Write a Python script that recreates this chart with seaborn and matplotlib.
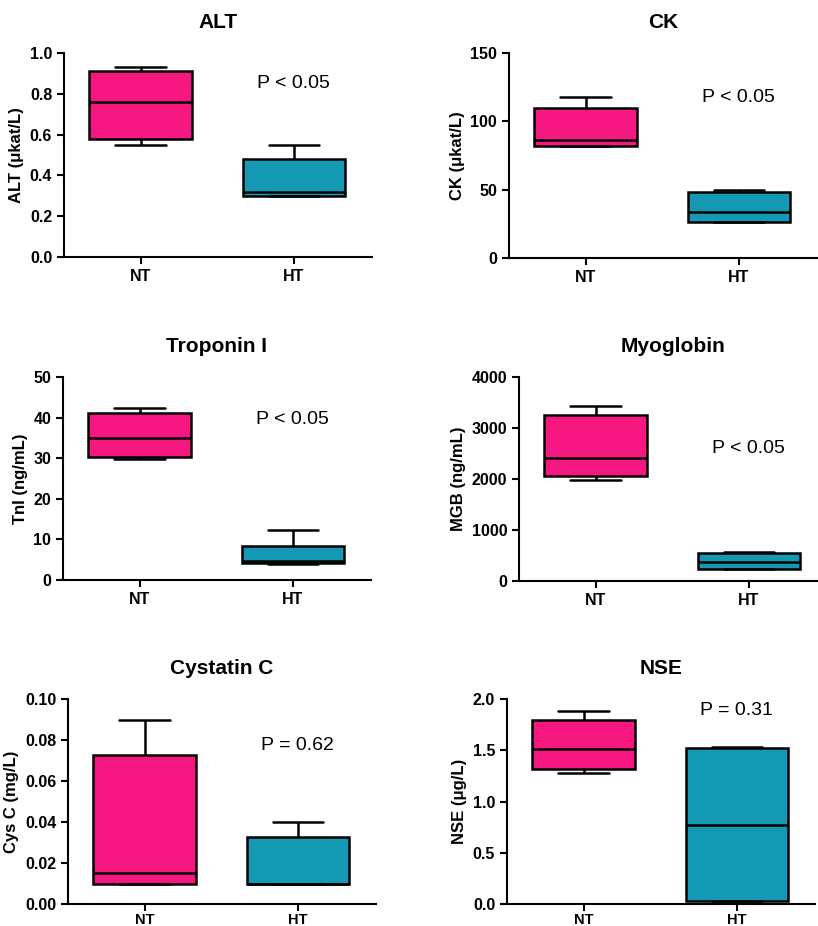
import pandas as pd
import numpy as np
import matplotlib
matplotlib.use('Agg')
import matplotlib.pyplot as plt
import seaborn as sns

# Dados: resumo de cinco números (mín, Q1, mediana, Q3, máx)
grupos = ['NT', 'HT']

alt_nt = [0.55, 0.58, 0.76, 0.91, 0.93]
alt_ht = [0.30, 0.30, 0.32, 0.48, 0.55]

ck_nt = [82, 82, 86, 110, 118]
ck_ht = [26, 26, 34, 48, 50]

tni_nt = [29.8, 30.3, 35.0, 41.2, 42.3]
tni_ht = [3.9, 4.2, 4.8, 8.4, 12.2]

mgb_nt = [1990, 2050, 2410, 3250, 3440]
mgb_ht = [230, 230, 380, 550, 560]

cys_nt = [0.010, 0.010, 0.015, 0.0725, 0.090]
cys_ht = [0.010, 0.010, 0.010, 0.0325, 0.040]

nse_nt = [1.28, 1.32, 1.51, 1.80, 1.88]
nse_ht = [0.03, 0.03, 0.77, 1.52, 1.53]

titulos = ['ALT', 'CK', 'Troponin I', 'Myoglobin', 'Cystatin C', 'NSE']
rotulos_y = ['ALT (\u03bckat/L)', 'CK (\u03bckat/L)', 'TnI (ng/mL)',
             'MGB (ng/mL)', 'Cys C (mg/L)', 'NSE (\u03bcg/L)']
p_textos = ['P < 0.05', 'P < 0.05', 'P < 0.05', 'P < 0.05', 'P = 0.62', 'P = 0.31']
y_max = [1.0, 150, 50, 4000, 0.10, 2.0]
y_passo = [0.2, 50, 10, 1000, 0.02, 0.5]
y_fmt = ['{:.1f}', '{:.0f}', '{:.0f}', '{:.0f}', '{:.2f}', '{:.1f}']

series = [(alt_nt, alt_ht), (ck_nt, ck_ht), (tni_nt, tni_ht),
          (mgb_nt, mgb_ht), (cys_nt, cys_ht), (nse_nt, nse_ht)]

# posição vertical do texto do P (fração do eixo)
p_pos_y = [0.85, 0.785, 0.79, 0.65, 0.775, 0.945]

cores = {'NT': '#F5167F', 'HT': '#1399B4'}

sns.set_style('white')
plt.rcParams['font.family'] = ['Liberation Sans', 'DejaVu Sans']
plt.rcParams['font.weight'] = 'bold'
plt.rcParams['text.color'] = 'black'
plt.rcParams['axes.labelcolor'] = 'black'
plt.rcParams['xtick.color'] = 'black'
plt.rcParams['ytick.color'] = 'black'

W, H = 818, 926
fig = plt.figure(figsize=(W / 100, H / 100), dpi=100)

# caixas dos eixos em pixels: esquerda, topo, base
caixas = [(64, 53, 257), (509, 53, 258),
          (63, 377, 580), (519, 377, 581),
          (68, 699, 904), (507, 699, 904)]
largura_px = 308

for i, (esq, topo, base) in enumerate(caixas):
    ax = fig.add_axes([esq / W, 1 - base / H, largura_px / W, (base - topo) / H])
    nt, ht = series[i]
    df = pd.DataFrame({'grupo': ['NT'] * len(nt) + ['HT'] * len(ht),
                       'valor': nt + ht})
    sns.boxplot(data=df, x='grupo', y='valor', hue='grupo', order=grupos,
                palette=cores, whis=(0, 100), width=0.67, linewidth=1.8,
                linecolor='black', saturation=1, legend=False, ax=ax,
                showfliers=False, capwidths=0.33)
    ax.set_xlim(-0.5, 1.51)
    ax.set_ylim(0, y_max[i])
    ticks = np.arange(0, y_max[i] + y_passo[i] / 2, y_passo[i])
    ax.set_yticks(ticks)
    ax.set_yticklabels([y_fmt[i].format(t) for t in ticks])
    ax.set_xlabel('')
    ax.set_ylabel(rotulos_y[i], fontsize=12, fontweight='bold', labelpad=4)
    ax.set_title(titulos[i], fontsize=15, fontweight='bold', pad=18)
    for lado in ['top', 'right']:
        ax.spines[lado].set_visible(False)
    for lado in ['left', 'bottom']:
        ax.spines[lado].set_linewidth(1.5)
        ax.spines[lado].set_color('black')
    ax.tick_params(axis='both', direction='out', length=5, width=1.5,
                   labelsize=11.5, colors='black', left=True, bottom=True)
    # última linha: rótulos um pouco mais próximos para caber na figura
    if i >= 4:
        ax.tick_params(axis='x', pad=1.5, labelsize=10.5)
    for lab in ax.get_xticklabels() + ax.get_yticklabels():
        lab.set_fontweight('bold')
    ax.text(1.0, p_pos_y[i], p_textos[i], transform=ax.get_xaxis_transform(),
            ha='center', va='center', fontsize=14, fontweight='normal')

fig.savefig('out.png', dpi=100)
